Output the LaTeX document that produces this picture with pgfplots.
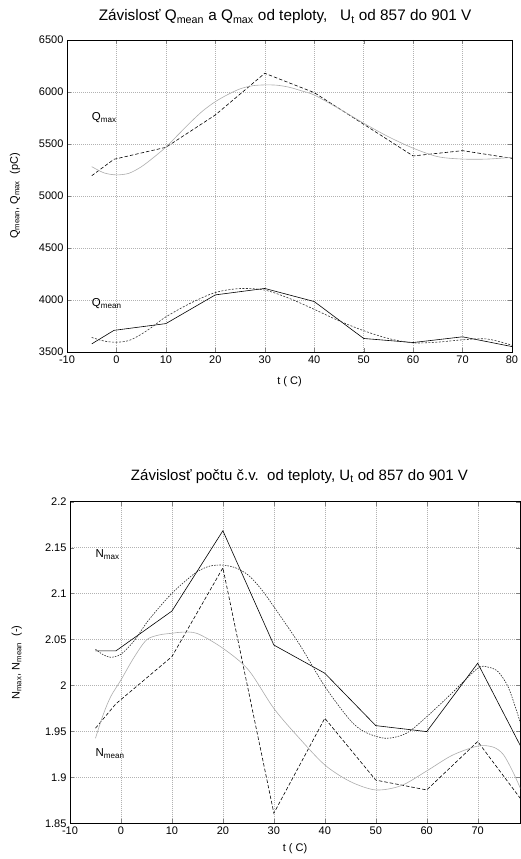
\documentclass[border=0pt]{standalone}
\usepackage{fontspec}
\setmainfont{Liberation Sans}
\usepackage{pgfplots}
\pgfplotsset{compat=1.18}
\begin{document}
\begin{tikzpicture}
\useasboundingbox (0,0) rectangle (521pt,859pt);
\pgfplotsset{
  every axis/.append style={
    scale only axis,
    /pgf/number format/assume math mode=true,
    /pgf/number format/1000 sep={},
    tick label style={font=\fontsize{11}{12}\selectfont},
    label style={font=\fontsize{11}{12}\selectfont},
    grid=major,
    grid style={gray!60, dash pattern=on 1pt off 1pt, line width=0.4pt},
    tick align=inside,
    major tick length=4pt,
    axis line style={line width=0.7pt},
    every axis plot/.append style={line width=0.6pt},
  }
}
% ---------------- top chart ----------------
\begin{axis}[
  at={(67pt,507pt)}, anchor=south west,
  width=445pt, height=312pt,
  xmin=-10, xmax=80, ymin=3500, ymax=6500,
  xtick={-10,0,...,80},
  ytick={3500,4000,...,6500},
  xlabel={t ( C)},
  xlabel style={at={(axis description cs:0.5,-0.096)}, anchor=center},
  ylabel={Q\textsubscript{mean}, Q\textsubscript{max}\ \ (pC)},
  ylabel style={at={(axis description cs:-0.117,0.5)}, anchor=center},
  title={Závislosť Q\textsubscript{mean} a Q\textsubscript{max} od teploty,\ \ \ U\textsubscript{t} od 857 do 901 V},
  title style={at={(axis description cs:0.49,1)}, anchor=base, yshift=13pt, font=\fontsize{15.3}{17}\selectfont},
  clip=true,
]
% Q_max data
\addplot[black, dash pattern=on 3.5pt off 2pt] coordinates {
(-5,5195) (-0.5,5353) (10,5468) (20,5779) (30,6180) (40,5994) (50,5690) (60,5385) (70,5436) (80,5362)};
% Q_max fit
\addplot[gray!65, smooth] coordinates {
(-5,5282) (-2.5,5222) (0,5203) (2.5,5218) (5,5280) (7.5,5370) (10,5470) (12.5,5590) (15,5710)
(17.5,5820) (20,5907) (22.5,5975) (25,6030) (27.5,6060) (30,6068) (32.5,6065) (35,6045)
(37.5,6010) (40,5971) (45,5840) (50,5700) (55,5570) (60,5460) (65,5378) (70,5355) (75,5355) (80,5372)};
% Q_mean data
\addplot[black] coordinates {
(-5,3578) (-0.5,3708) (10,3773) (20,4049) (30,4111) (40,3985) (50,3630) (60,3591) (70,3646) (80,3552)};
% Q_mean fit
\addplot[black!80, dash pattern=on 2pt off 1.5pt, smooth] coordinates {
(-5,3640) (-2.5,3605) (0,3594) (2.5,3610) (5,3670) (7.5,3750) (10,3838) (15,3970) (20,4072) (25,4110) (30,4095)
(35,4015) (40,3910) (45,3800) (50,3705) (55,3630) (60,3588) (65,3595) (70,3617) (75,3625) (80,3565)};
\node[anchor=base west, inner sep=0pt, font=\fontsize{11.5}{12}\selectfont] at (axis cs:-5,5725) {Q\textsubscript{max}};
\node[anchor=base west, inner sep=0pt, font=\fontsize{11.5}{12}\selectfont] at (axis cs:-5,3935) {Q\textsubscript{mean}};
\end{axis}
% ---------------- bottom chart ----------------
\begin{axis}[
  at={(70pt,35.7pt)}, anchor=south west,
  width=450pt, height=321.6pt,
  xmin=-10, xmax=78.3, ymin=1.85, ymax=2.2,
  xtick={-10,0,...,70},
  ytick={1.85,1.9,...,2.2},
  yticklabels={1.85,1.9,1.95,2,2.05,2.1,2.15,2.2},
  xlabel={t ( C)},
  xlabel style={at={(axis description cs:0.5,-0.079)}, anchor=center},
  ylabel={N\textsubscript{max}, N\textsubscript{mean}\ \ (-)},
  ylabel style={at={(axis description cs:-0.118,0.5)}, anchor=center},
  title={Závislosť počtu č.v.\ \ od teploty, U\textsubscript{t} od 857 do 901 V},
  title style={at={(axis description cs:0.51,1)}, anchor=base, yshift=15pt, font=\fontsize{15}{17}\selectfont},
  clip=true,
]
% N_max data
\addplot[black] coordinates {
(-5,2.0376) (-1,2.0376) (10,2.081) (20,2.1684) (30,2.044) (40,2.0133) (50,1.9563) (60,1.9498) (70,2.0242) (80,1.917)};
% N_max fit
\addplot[black!85, dash pattern=on 1.5pt off 1.2pt, smooth] coordinates {
(-5,2.0394) (-3.5,2.0335) (-2,2.0307) (0,2.034) (2.5,2.048) (5,2.068) (7.5,2.085) (10,2.1003) (12.5,2.113) (15,2.124)
(17.5,2.130) (20,2.131) (22.5,2.128) (25,2.120) (27.5,2.105) (30,2.0857) (35,2.045) (40,1.999)
(45,1.962) (48,1.949) (52,1.9425) (56,1.948) (60,1.966) (65,1.992) (70,2.0187) (72,2.020) (74,2.015) (76,1.998) (78,1.966) (79,1.945)};
% N_mean data
\addplot[black, dash pattern=on 3.5pt off 2pt] coordinates {
(-5,1.9535) (-1,1.98) (10,2.0314) (20,2.128) (30,1.861) (40,1.9643) (50,1.897) (60,1.8863) (70,1.939) (80,1.865)};
% N_mean fit
\addplot[gray!65, smooth] coordinates {
(-5,1.9426) (-3.5,1.968) (-2,1.988) (0,2.006) (2.5,2.030) (5,2.0495) (7.5,2.055) (10,2.0568) (12,2.058) (15,2.0565)
(20,2.0405) (25,2.017) (30,1.975) (35,1.9426) (40,1.9135) (45,1.8954) (50,1.8863) (55,1.891) (60,1.907)
(65,1.924) (70,1.934) (73,1.933) (75,1.925) (77,1.905) (79,1.880)};
\node[anchor=base west, inner sep=0pt, font=\fontsize{11.5}{12}\selectfont] at (axis cs:-5,2.139) {N\textsubscript{max}};
\node[anchor=base west, inner sep=0pt, font=\fontsize{11.5}{12}\selectfont] at (axis cs:-5,1.923) {N\textsubscript{mean}};
\end{axis}
\end{tikzpicture}
\end{document}
